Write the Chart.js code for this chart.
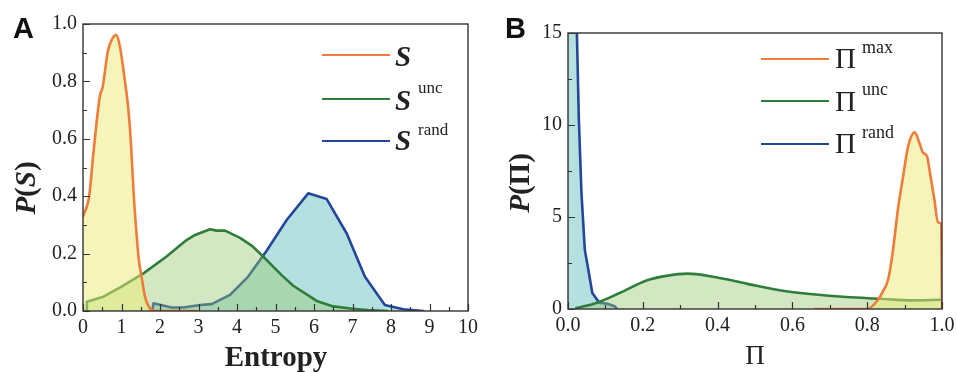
<!DOCTYPE html>
<html>
<head>
<meta charset="utf-8">
<script src="https://cdn.jsdelivr.net/npm/chart.js@4.4.1/dist/chart.umd.min.js"></script>
<style>
  html, body { margin:0; padding:0; background:#fff; }
  body { width:957px; height:372px; position:relative; overflow:hidden; font-family:'Liberation Serif', serif; color:#222; }
  canvas { position:absolute; top:0; }
  .t { position:absolute; line-height:1; white-space:nowrap; }
  .serif { font-family:'Liberation Serif', serif; }
  .sans { font-family:'Liberation Sans', Arial, sans-serif; font-weight:bold; }
  .lg { position:absolute; height:0; border-top:2.6px solid; }
</style>
</head>
<body>
<canvas id="cA" width="480" height="372" style="left:0;width:480px;height:372px"></canvas>
<canvas id="cB" width="477" height="372" style="left:480px;width:477px;height:372px"></canvas>

<!-- panel letters -->
<div class="t sans" style="left:13px;top:13.5px;font-size:29px;color:#111">A</div>
<div class="t sans" style="left:505px;top:13.5px;font-size:29px;color:#111">B</div>

<!-- axis titles -->
<div class="t serif" style="left:276px;top:341.7px;font-size:29px;font-weight:bold;transform:translateX(-50%)">Entropy</div>
<div class="t serif" style="left:755px;top:342px;font-size:27px;transform:translateX(-50%)">Π</div>
<div class="t serif" style="left:25px;top:188px;font-size:29px;font-weight:bold;transform:translate(-50%,-50%) rotate(-90deg)"><i>P</i>(<i>S</i>)</div>
<div class="t serif" style="left:519px;top:183px;font-size:29px;font-weight:bold;transform:translate(-50%,-50%) rotate(-90deg)"><i>P</i>(Π)</div>

<!-- legend A -->
<div class="lg" style="left:322px;width:68px;top:54.4px;border-color:#f07c3a"></div>
<div class="lg" style="left:322px;width:68px;top:97.7px;border-color:#2f7d3a"></div>
<div class="lg" style="left:322px;width:68px;top:139.7px;border-color:#23479a"></div>
<div class="t serif" style="left:395px;top:42.4px;font-size:29px;font-weight:bold;font-style:italic">S</div>
<div class="t serif" style="left:395px;top:85.7px;font-size:29px;font-weight:bold;font-style:italic">S</div>
<div class="t serif" style="left:418px;top:78.8px;font-size:17px">unc</div>
<div class="t serif" style="left:395px;top:125.7px;font-size:29px;font-weight:bold;font-style:italic">S</div>
<div class="t serif" style="left:418px;top:120.8px;font-size:17px">rand</div>

<!-- legend B -->
<div class="lg" style="left:761px;width:68px;top:58px;border-color:#f07c3a"></div>
<div class="lg" style="left:761px;width:68px;top:100.4px;border-color:#2f7d3a"></div>
<div class="lg" style="left:761px;width:68px;top:143px;border-color:#23479a"></div>
<div class="t serif" style="left:835px;top:43.7px;font-size:29px">Π</div>
<div class="t serif" style="left:862px;top:37.6px;font-size:18px">max</div>
<div class="t serif" style="left:835px;top:87.4px;font-size:29px">Π</div>
<div class="t serif" style="left:862px;top:79.9px;font-size:18px">unc</div>
<div class="t serif" style="left:835px;top:128.7px;font-size:29px">Π</div>
<div class="t serif" style="left:862px;top:122.9px;font-size:18px">rand</div>

<script>
// ---------- Panel A data (entropy distributions) ----------
const sX     = [0, 0.16, 0.27, 0.44, 0.51, 0.64, 0.70, 0.86, 0.96, 1.09, 1.18, 1.24, 1.32, 1.39, 1.45, 1.52, 1.61, 1.72, 1.85, 2.0, 2.5, 2.95];
const sY     = [0.33, 0.40, 0.55, 0.75, 0.78, 0.90, 0.93, 0.962, 0.92, 0.80, 0.70, 0.596, 0.40, 0.27, 0.178, 0.12, 0.05, 0.012, 0.002, 0, 0, 0];

const sUncX  = [0.08, 0.1, 0.53, 1.0, 1.57, 2.17, 2.69, 2.91, 3.30, 3.47, 3.69, 4.08, 4.38, 4.68, 4.90, 5.16, 5.46, 5.9, 6.07, 6.5, 7.0, 7.4, 7.9];
const sUncY  = [0, 0.032, 0.05, 0.085, 0.131, 0.19, 0.247, 0.265, 0.285, 0.28, 0.28, 0.255, 0.228, 0.19, 0.16, 0.125, 0.088, 0.05, 0.035, 0.016, 0.008, 0.003, 0];

const sRandX = [1.8, 1.83, 2.30, 2.61, 3.04, 3.34, 3.82, 4.29, 4.77, 5.29, 5.85, 6.33, 6.85, 7.32, 7.84, 8.32, 8.84];
const sRandY = [0, 0.027, 0.012, 0.012, 0.021, 0.024, 0.056, 0.12, 0.21, 0.317, 0.41, 0.39, 0.27, 0.12, 0.021, 0.006, 0];

const aXTicks = ['0','1','2','3','4','5','6','7','8','9','10'];
const aYTicks = ['0.0','0.2','0.4','0.6','0.8','1.0'];

// ---------- Panel B data (Pi distributions) ----------
const pMaxX  = [0.66, 0.80, 0.829, 0.842, 0.856, 0.869, 0.882, 0.896, 0.909, 0.927, 0.94, 0.949, 0.96, 0.967, 0.98, 0.989, 0.998, 1.0];
const pMaxY  = [0, 0, 0.5, 0.96, 1.6, 3.2, 5.4, 7.2, 8.8, 9.6, 9.0, 8.5, 8.3, 7.5, 5.9, 4.7, 4.6, 0];

const pUncX  = [0.022, 0.076, 0.138, 0.21, 0.263, 0.32, 0.388, 0.477, 0.566, 0.655, 0.744, 0.833, 0.922, 0.994];
const pUncY  = [0.05, 0.33, 0.87, 1.55, 1.8, 1.92, 1.75, 1.38, 1.02, 0.8, 0.65, 0.56, 0.47, 0.5];

const pRandX = [0.0, 0.024, 0.029, 0.036, 0.045, 0.053, 0.065, 0.078, 0.085, 0.103, 0.125, 0.131];
const pRandY = [80, 14.8, 10.3, 6.3, 3.2, 2.3, 0.87, 0.5, 0.33, 0.3, 0.15, 0];

const bXTicks = ['0.0','0.2','0.4','0.6','0.8','1.0'];
const bYTicks = ['0','5','10','15'];

// ---------- helpers ----------
const pts = (xs, ys) => xs.map((x, i) => ({x, y: ys[i]}));
const ORANGE = '#f07c3a', GREEN = '#2f7d3a', BLUE = '#23479a';
const FILL_Y = 'rgba(236,236,120,0.5)', FILL_G = 'rgba(150,200,110,0.42)', FILL_B = 'rgba(80,180,180,0.42)';

const frameTicks = {
  id: 'frameTicks',
  afterDatasetsDraw(chart, args, o) {
    const {ctx, chartArea: a, scales: {x, y}} = chart;
    ctx.save();
    ctx.strokeStyle = '#333';
    ctx.lineWidth = 1.4;
    ctx.strokeRect(a.left, a.top, a.right - a.left, a.bottom - a.top);
    ctx.lineWidth = 1.2;
    ctx.beginPath();
    const nx = Math.round((o.xMax - o.xMin) / o.xMinor);
    for (let k = 0; k <= nx; k++) {
      const v = o.xMin + k * o.xMinor;
      const len = (k % o.xEvery === 0) ? 7 : 4;
      const p = Math.round(x.getPixelForValue(v)) + 0.5;
      ctx.moveTo(p, a.bottom); ctx.lineTo(p, a.bottom - len);
    }
    const ny = Math.round((o.yMax - o.yMin) / o.yMinor);
    for (let k = 0; k <= ny; k++) {
      const v = o.yMin + k * o.yMinor;
      const len = (k % o.yEvery === 0) ? 7 : 4;
      const p = Math.round(y.getPixelForValue(v)) + 0.5;
      ctx.moveTo(a.left, p); ctx.lineTo(a.left + len, p);
    }
    ctx.stroke();
    ctx.restore();
  }
};

const tickFont = {family: "'Liberation Serif', serif", size: 20};

function makeChart(id, datasets, cfg) {
  return new Chart(document.getElementById(id), {
    type: 'line',
    data: {datasets},
    plugins: [frameTicks],
    options: {
      responsive: false,
      animation: false,
      events: [],
      layout: {padding: cfg.pad},
      plugins: {legend: {display: false}, tooltip: {enabled: false}, frameTicks: cfg.ticks},
      elements: {point: {radius: 0}},
      scales: {
        x: {
          type: 'linear', min: cfg.xMin, max: cfg.xMax,
          grid: {display: false, drawTicks: false}, border: {display: false},
          afterFit: s => { s.height = cfg.xH; s.paddingLeft = 0; s.paddingRight = 0; },
          afterBuildTicks: s => { s.ticks = cfg.xLabels.map((l, i) => ({value: cfg.xMin + i * cfg.xStep})); },
          ticks: {font: tickFont, color: '#222', padding: 5, maxRotation: 0, autoSkip: false,
                  callback: (v, i) => cfg.xLabels[i]}
        },
        y: {
          type: 'linear', min: cfg.yMin, max: cfg.yMax,
          grid: {display: false, drawTicks: false}, border: {display: false},
          afterFit: s => { s.width = cfg.yW; s.paddingTop = 0; s.paddingBottom = 0; },
          afterBuildTicks: s => { s.ticks = cfg.yLabels.map((l, i) => ({value: cfg.yMin + i * cfg.yStep})); },
          ticks: {font: tickFont, color: '#222', padding: 6, autoSkip: false,
                  callback: (v, i) => cfg.yLabels[i]}
        }
      }
    }
  });
}

const ds = (data, color, fill, smooth) => ({
  data, borderColor: color, backgroundColor: fill, fill: 'origin',
  borderWidth: 2.6, tension: 0, cubicInterpolationMode: smooth ? 'monotone' : 'default',
  borderJoinStyle: 'round', borderCapStyle: 'round'
});

makeChart('cA', [
  ds(pts(sX, sY), ORANGE, FILL_Y, true),
  ds(pts(sUncX, sUncY), GREEN, FILL_G, false),
  ds(pts(sRandX, sRandY), BLUE, FILL_B, false)
], {
  pad: {top: 24, right: 12, left: 0, bottom: 0},
  xMin: 0, xMax: 10, xStep: 1, yMin: 0, yMax: 1, yStep: 0.2,
  xLabels: aXTicks, yLabels: aYTicks, xH: 61, yW: 83,
  ticks: {xMin: 0, xMax: 10, xMinor: 0.5, xEvery: 2, yMin: 0, yMax: 1, yMinor: 0.1, yEvery: 2}
});

makeChart('cB', [
  ds(pts(pMaxX, pMaxY), ORANGE, FILL_Y, true),
  ds(pts(pUncX, pUncY), GREEN, FILL_G, true),
  ds(pts(pRandX, pRandY), BLUE, FILL_B, false)
], {
  pad: {top: 33, right: 15, left: 0, bottom: 0},
  xMin: 0, xMax: 1, xStep: 0.2, yMin: 0, yMax: 15, yStep: 5,
  xLabels: bXTicks, yLabels: bYTicks, xH: 63, yW: 88,
  ticks: {xMin: 0, xMax: 1, xMinor: 0.1, xEvery: 2, yMin: 0, yMax: 15, yMinor: 2.5, yEvery: 2}
});
</script>
</body>
</html>
